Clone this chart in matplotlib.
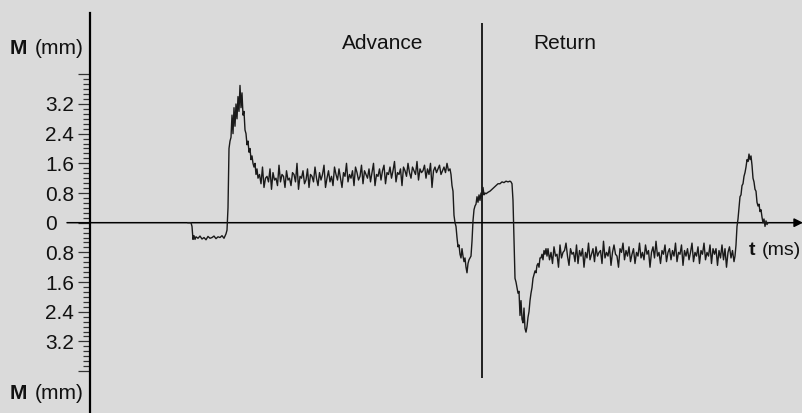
import numpy as np
import matplotlib
matplotlib.use("Agg")
import matplotlib.pyplot as plt
from matplotlib.ticker import FixedLocator

plt.rcParams['font.family'] = ['Liberation Sans', 'DejaVu Sans']

# ---------------- data (time in ms, displacement M in mm) ----------------
# start, pre-pulse and first peak (advance start)
t_start = [188, 191, 192, 193, 194, 195, 196, 198, 200, 202, 204, 206, 208, 210, 212, 214,
           216, 218, 220, 222, 224, 226, 227, 228, 229, 230, 231, 232, 233, 234, 235, 236,
           237, 238, 239, 240, 241, 242, 243, 244, 245, 246, 247, 248, 249, 250, 251, 252,
           253, 254, 255, 256, 257, 258]
m_start = [0.0, 0.0, -0.1, -0.45, -0.35, -0.45, -0.38, -0.42, -0.36, -0.44, -0.4, -0.46, -0.37,
           -0.42, -0.4, -0.36, -0.43, -0.38, -0.4, -0.35, -0.42, -0.3, -0.2, 0.4, 2.0, 2.2, 2.3,
           2.9, 2.4, 3.1, 2.6, 3.2, 2.8, 3.4, 3.0, 3.7, 3.1, 3.5, 2.9, 3.0, 2.5, 2.4, 2.1, 2.2,
           1.9, 2.0, 1.7, 1.8, 1.6, 1.5, 1.6, 1.3, 1.45, 1.2]

# advance plateau (sampled every 1.5 ms from t=259.5)
adv_t0, adv_dt = 259.5, 1.5
m_advance = [
    1.3, 1.05, 1.5, 0.95, 1.2, 1.25, 1.1, 1.45, 0.9, 1.35, 1.15, 1.2, 1.0, 1.55, 1.1, 1.3, 1.25, 0.95, 1.4, 1.15,
    1.2, 1.0, 1.35, 1.3, 1.1, 1.6, 0.9, 1.25, 1.2, 1.4, 1.05, 1.15, 1.45, 0.95, 1.3, 1.25, 1.1, 1.5, 1.2, 1.0,
    1.35, 1.15, 1.3, 1.55, 0.95, 1.2, 1.4, 1.1, 1.25, 1.0, 1.5, 1.3, 1.15, 1.45, 1.2, 0.95, 1.35, 1.25, 1.6, 1.1,
    1.3, 1.2, 1.4, 1.0, 1.5, 1.35, 1.15, 1.25, 1.55, 1.05, 1.4, 1.3, 1.2, 1.45, 1.1, 1.35, 1.6, 1.0, 1.3, 1.25,
    1.45, 1.15, 1.4, 1.55, 1.05, 1.35, 1.3, 1.5, 1.2, 1.4, 1.65, 1.1, 1.35, 1.3, 1.45, 1.0, 1.5, 1.4, 1.25, 1.6,
    1.35, 1.2, 1.5, 1.4, 1.3, 1.65, 1.15, 1.45, 1.35, 1.4, 1.55, 1.2, 1.45, 1.3, 1.6, 0.95, 1.4, 1.5, 1.35, 1.45,
    1.55, 1.3, 1.4, 1.5, 1.35, 1.6, 1.4, 1.45]

# end of advance, switch-over and return dip
t_mid = [451, 452, 453, 454, 455, 456, 457, 458, 459, 460, 461, 462, 463, 464, 465, 466, 467,
         468, 469, 470, 471, 472, 473, 474, 475, 476, 477, 478, 479, 480, 481, 482, 483, 484,
         485, 486, 488, 490, 492, 494, 496, 498, 500, 502, 504, 506, 508, 510, 511, 512, 513,
         514, 515, 516, 517, 518, 519, 520, 521, 522, 523, 524, 525, 526, 527, 528, 529, 530,
         531, 532, 533, 534, 535, 536, 537, 538, 539, 540, 541, 542, 543, 544, 545, 546, 547]
m_mid = [1.3, 1.0, 0.85, 0.2, 0.0, -0.1, -0.4, -0.65, -0.6, -0.85, -0.95, -0.7, -0.9, -1.05,
         -0.95, -1.2, -1.35, -1.1, -1.0, -0.95, -0.9, -0.5, 0.05, 0.35, 0.45, 0.5, 0.7, 0.55, 0.75,
         0.6, 0.8, 0.7, 0.95, 0.75, 0.8, 0.78, 0.82, 0.85, 0.9, 0.95, 1.0, 1.05, 1.05, 1.1, 1.08,
         1.12, 1.1, 1.12, 1.1, 1.05, 0.6, -0.4, -1.5, -1.6, -1.75, -1.9, -1.85, -2.5, -2.1, -2.6,
         -2.7, -2.3, -2.85, -2.95, -2.8, -2.55, -2.4, -2.1, -1.9, -1.75, -1.5, -1.4, -1.3, -1.35,
         -1.15, -1.1, -1.2, -0.95, -0.95, -0.85, -1.0, -0.75, -0.85, -0.7, -0.9]

# return plateau (sampled every 1.5 ms from t=548)
ret_t0, ret_dt = 548.0, 1.5
m_return = [
    -0.7, -1.0, -0.8, -1.1, -0.65, -0.9, -0.85, -1.2, -0.6, -0.95, -0.8, -0.75, -0.55, -0.9, -1.15, -0.7, -0.85, -0.8, -1.05, -0.6,
    -1.1, -0.75, -0.9, -0.7, -1.2, -0.8, -0.95, -0.55, -1.0, -0.85, -0.7, -1.05, -0.65, -0.9, -0.8, -0.75, -1.1, -0.5, -0.95, -0.8,
    -0.9, -0.65, -1.15, -0.8, -0.6, -0.85, -0.9, -1.2, -0.7, -0.8, -0.55, -1.0, -0.75, -0.9, -0.65, -1.05, -0.85, -0.7, -1.1, -0.8,
    -0.9, -0.55, -0.95, -0.8, -1.0, -0.6, -0.85, -0.75, -1.2, -0.8, -0.65, -0.95, -0.5, -0.9, -0.8, -1.1, -0.75, -0.85, -0.6, -1.05,
    -0.8, -0.7, -1.0, -0.75, -0.9, -0.55, -1.05, -0.8, -0.85, -0.6, -1.15, -0.75, -0.9, -0.7, -1.0, -0.8, -0.55, -1.05, -0.8, -0.9,
    -0.65, -1.1, -0.75, -0.85, -0.55, -1.0, -0.8, -0.9, -0.6, -1.1, -0.7, -0.85, -0.7, -1.15, -0.75, -0.95, -0.6, -1.0, -0.7, -1.2,
    -0.8, -0.65, -0.95, -0.75, -1.05]

# end of return: final peak
t_end = [735, 736, 737, 738, 739, 740, 741, 742, 743, 744, 745, 746, 747, 748, 749, 750, 751,
         752, 753, 754, 755, 756, 757, 758, 759, 760, 761, 762, 763, 764, 765, 766, 767, 768]
m_end = [-0.9, -0.6, -0.1, 0.1, 0.4, 0.7, 0.75, 1.0, 1.05, 1.25, 1.35, 1.5, 1.7, 1.65, 1.85,
         1.7, 1.8, 1.55, 1.2, 1.1, 0.9, 0.85, 0.55, 0.45, 0.5, 0.3, 0.35, 0.15, 0.0, 0.1, -0.1,
         0.05, -0.05, 0.0]

switch_t = 482          # advance / return switch-over time
y_major = [-4.0, -3.2, -2.4, -1.6, -0.8, 0.0, 0.8, 1.6, 2.4, 3.2, 4.0]
y_labels = ['', '3.2', '2.4', '1.6', '0.8', '0', '0.8', '1.6', '2.4', '3.2', '']
phase_labels = ['Advance', 'Return']

# ---------------- assemble signal ----------------
t_adv = adv_t0 + adv_dt * np.arange(len(m_advance))
t_ret = ret_t0 + ret_dt * np.arange(len(m_return))
t = np.concatenate([t_start, t_adv, t_mid, t_ret, t_end])
m = np.concatenate([m_start, m_advance, m_mid, m_return, m_end])

# ---------------- figure ----------------
W, H = 803, 413
bg = '#dadada'
fig = plt.figure(figsize=(W / 100, H / 100), dpi=100, facecolor=bg)
ax = fig.add_axes([0, 0, 1, 1], facecolor=bg)
ax.set_xlim(0, 803)
y0_px, px_per_mm = 222.7, 37.1
ax.set_ylim(-(H - y0_px) / px_per_mm, y0_px / px_per_mm)

def fx(px):
    return px / W

def fy(py):
    return 1 - py / H

# signal
ax.plot(t, m, color='#1a1a1a', lw=1.0, zorder=3)

# horizontal time axis with arrow
ax.annotate('', xy=(803, 0), xytext=(67, 0),
            arrowprops=dict(arrowstyle='-|>', lw=1.1, color='black',
                            mutation_scale=13, shrinkA=0, shrinkB=0), zorder=2)

# switch-over line
ax.vlines(switch_t, (y0_px - 378) / px_per_mm, (y0_px - 23) / px_per_mm,
          color='black', lw=1.2, zorder=2)

# left axis
for s in ['top', 'right', 'bottom']:
    ax.spines[s].set_visible(False)
ax.spines['left'].set_position(('data', 90))
ax.spines['left'].set_bounds(-(H - y0_px) / px_per_mm, (y0_px - 13) / px_per_mm)
ax.spines['left'].set_linewidth(1.6)
ax.spines['left'].set_color('black')
ax.set_xticks([])
ax.set_yticks(y_major)
ax.set_yticklabels([])
minor = [v for v in np.arange(-30, 31) * (0.8 / 6) if min(abs(v - np.array(y_major))) > 1e-6]
ax.yaxis.set_minor_locator(FixedLocator(minor))
ax.tick_params(axis='y', which='major', length=8.6, width=0.9, color='#333333')
ax.tick_params(axis='y', which='minor', length=5, width=0.9, color='#333333')

fs = 15
# tick labels, left aligned as in the reference
for v, lab in zip(y_major, y_labels):
    ax.text(45, v, lab, fontsize=fs, ha='left', va='center_baseline', color='#111111')

# texts
for py in (54, 399):
    fig.text(fx(10), fy(py), 'M', fontsize=fs, fontweight='bold', va='baseline', color='#111111')
    fig.text(fx(35), fy(py), '(mm)', fontsize=fs, va='baseline', color='#111111')
fig.text(fx(749), fy(255), 't', fontsize=14, fontweight='bold', va='baseline', color='#111111')
fig.text(fx(762), fy(255), '(ms)', fontsize=14, va='baseline', color='#111111')
fig.text(fx(342), fy(49), phase_labels[0], fontsize=fs, va='baseline', color='#111111')
fig.text(fx(533), fy(49), phase_labels[1], fontsize=fs, va='baseline', color='#111111')

fig.savefig('out.png', dpi=100, facecolor=bg)
